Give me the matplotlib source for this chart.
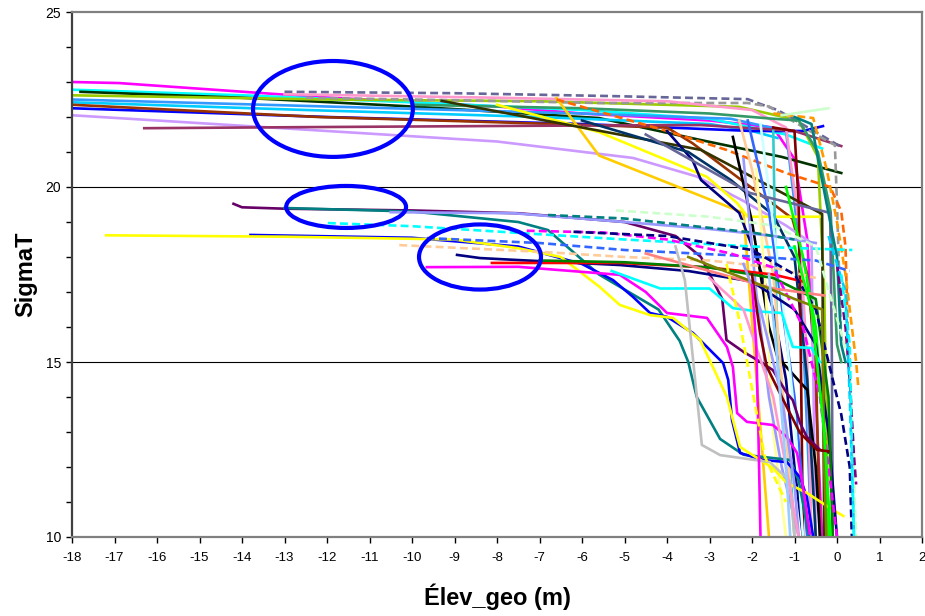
import matplotlib
matplotlib.use("Agg")
import matplotlib.pyplot as plt
from matplotlib.patches import Ellipse
from matplotlib.ticker import MultipleLocator

# ---- upper bundle (sigmaT ~21.5-23 offshore, dropping near shore)
top_x = [
    [-18, -16.9, -12.2, -8, -6, -3, -1.5, -1.0, -0.7, -0.5, -0.35],
    [-18, -14, -10, -6, -3, -1.2, -0.35],
    [-17.8, -14, -10, -5.6, -3.2, -1.3, 0.1],
    [-18, -12, -7, -2.3, -0.9, -0.45, -0.3, -0.2],
    [-18, -12, -6, -2.5, -1.2, -0.9, -0.7, -0.6],
    [-18, -12.5, -7, -3, -2, -1.4],
    [-18, -12, -6, -2, -0.8, -0.33],
    [-18, -12.2, -8, -4, -3.4, -1.05, -0.7, -0.5, -0.4],
    [-18, -12, -8, -4.8, -3.3, -2.2, -1.2, -0.6, -0.55, -0.5],
    [-16.3, -12.6, -7, -3.2, -1, 0.1],
    [-13, -9, -5.4, -2.1, -1.8, -1.4, -0.3, 0.1],
    [-12.5, -9, -5.6, -2.1, -1.6, -1.2, -0.5, -0.05, 0.0, 0.05, 0.1],
    [-13, -8, -4, -2, -1.2, -0.9, -0.7, -0.6],
    [-10, -6, -3, -1.5, -0.9, -0.45, -0.15, 0.0, 0.1],
    [-6.6, -5.6, -2.2, -1.6],
    [-8, -5.6, -3.06, -2.35, -2.1, -0.4],
    [-9.3, -6, -3.2, -0.35, -0.3],
    [-6.6, -4, -2.6, -1.2, -0.16, 0.1, 0.2, 0.25, 0.3],
    [-1.5, -0.56, -0.24, 0.0, 0.2, 0.35, 0.45, 0.5],
    [-1.3, -0.2],
    [-4.0, -3.4, -3.2, -2.3, -1.9, -1.5, -1.2, -1.0, -0.8],
    [-6, -3.5, -2.5, -1.5, -1.0, -0.7, -0.5],
    [-2.45, -2.0, -1.6, -1.4, -0.7, -0.5, -0.4],
    [-1.5, -1.45, -1.4, -1.1, -1.0],
    [-1.5, -1.0, -0.9, -0.85, -0.8],
    [-2.1, -1.6, -1.4, -1.0, -0.7],
    [-1.8, -1.3, -1.0, -0.8],
    [-2.3, -2.0, -1.5, -1.2, -1.0],
    [-4.5, -2.05, -0.16, -0.12, -0.1],
    [-1.2, -0.8, -0.5, -0.3, -0.2],
    [-1.0, -0.6, -0.4, 0.0, 0.1, 0.2],
    [-1.9, -1.7, -1.5, -1.2],
    [-2.2, -1.9, -1.6, -1.3, -0.9],
]
top_y = [
    [23.0, 22.97, 22.57, 22.3, 22.1, 21.9, 21.7, 20.8, 18.5, 14.0, 10.0],
    [22.78, 22.62, 22.42, 22.2, 21.95, 21.5, 21.1],
    [22.72, 22.55, 22.3, 21.97, 21.34, 20.86, 20.4],
    [22.62, 22.5, 22.45, 22.29, 21.9, 20.86, 17.0, 10.0],
    [22.5, 22.3, 22.1, 21.95, 21.6, 18.5, 13.0, 10.0],
    [22.42, 22.2, 22.0, 21.8, 21.6, 21.4],
    [22.25, 22.0, 21.8, 21.6, 21.6, 21.74],
    [22.35, 22.0, 21.85, 21.7, 21.25, 19.1, 17.5, 15.0, 10.0],
    [22.05, 21.6, 21.3, 20.83, 20.3, 19.6, 18.9, 18.4, 14.0, 10.0],
    [21.68, 21.71, 21.75, 21.77, 21.6, 21.17],
    [22.72, 22.68, 22.6, 22.51, 22.37, 22.2, 21.43, 21.14],
    [22.55, 22.48, 22.4, 22.4, 22.3, 22.0, 21.5, 21.2, 19.5, 17.5, 15.5],
    [22.65, 22.55, 22.45, 22.2, 21.7, 19.0, 15.0, 10.0],
    [22.35, 22.25, 22.1, 21.95, 21.9, 21.0, 19.3, 15.5, 15.0],
    [22.54, 20.9, 19.26, 10.0],
    [22.35, 21.57, 20.29, 19.54, 19.15, 19.15],
    [22.46, 21.7, 21.06, 19.23, 10.0],
    [22.5, 21.6, 21.06, 20.4, 20.0, 19.3, 18.3, 16.0, 15.0],
    [22.1, 21.97, 20.49, 19.0, 17.5, 16.0, 15.0, 14.3],
    [22.05, 22.25],
    [21.6, 20.77, 20.2, 19.26, 18.0, 16.5, 14.5, 12.0, 10.0],
    [21.9, 21.0, 20.2, 19.2, 18.0, 14.5, 10.0],
    [21.43, 19.0, 16.0, 15.14, 14.2, 12.0, 10.0],
    [21.6, 18.0, 15.0, 12.0, 10.0],
    [21.7, 21.6, 19.5, 15.0, 10.0],
    [21.9, 19.3, 17.5, 14.0, 10.0],
    [21.8, 17.0, 13.5, 10.0],
    [21.9, 20.5, 17.5, 13.0, 10.0],
    [21.5, 19.83, 19.26, 15.0, 10.0],
    [20.0, 18.0, 16.0, 13.0, 10.0],
    [22.0, 21.8, 20.5, 18.0, 15.5, 15.0],
    [20.5, 17.5, 13.0, 10.0],
    [20.8, 17.0, 14.0, 12.0, 10.0],
]
top_colors = ["#ff00ff", "#00ffff", "#003300", "#99cc00", "#3399ff", "#00ccff",
              "#0000ff", "#993300", "#cc99ff", "#993366", "#666699", "#999999",
              "#ff99cc", "#339966", "#ffcc00", "#ffff00", "#333300", "#ff6600",
              "#ff9900", "#ccffcc", "#000080", "#003366", "#000000", "#33cccc",
              "#800000", "#3366ff", "#ccffff", "#ffcc99", "#666699", "#00ff00",
              "#008080", "#ffff99", "#9999ff"]
top_dashed = [0, 0, 0, 0, 0, 0, 0, 0, 0, 0, 1, 1, 0, 0, 0, 0, 0, 1, 1, 0,
              0, 0, 0, 0, 0, 0, 0, 0, 0, 0, 0, 0, 0]

# ---- middle bundle (sigmaT ~17.5-19.5)
mid_x = [
    [-14.2, -14.0, -13, -10, -7.5, -5, -3.8, -3.2, -2.7, -2.6, -2.2, -1.88, -1.51, -1.18, -1.04, -0.87, -0.71, -0.4, -0.16],
    [-13.0, -10, -7.5, -6.8, -5.6, -4.2, -3.7, -3.5, -3.3, -2.75, -2.2, -1.1, -0.9, -0.65],
    [-13.8, -10, -7.5, -6, -5.27, -4.8, -4.4, -4.0, -3.39, -2.68, -2.56, -2.47, -2.28, -1.74, -1.18, -0.87, -0.71, -0.56],
    [-17.2, -13, -9, -7.5, -6.5, -5.58, -5.11, -4.4, -3.86, -3.22, -2.59, -2.28, -1.51, -1.18, -0.71, -0.09, 0.15],
    [-9.65, -7.5, -5.11, -4.5, -4.0, -3.06, -2.59, -2.45, -2.35, -2.12, -1.51, -1.18, -0.94, -0.8, -0.64],
    [-8.94, -8.4, -7.46, -5.1, -3.5, -2.0, -1.0, -0.5, -0.2, 0.0],
    [-8.12, -5.1, -3, -1.5, -0.8],
    [-11.98, -10, -7, -5, -2, 0.36],
    [-9.65, -7, -5, -2.5, -0.5, 0.3],
    [-10.3, -7, -5, -3, -1.5, -0.5],
    [-10.5, -7.6, -5, -3, -1.5, -0.5],
    [-5.2, -3, -1.5, -0.5, 0.3, 0.45],
    [-6.8, -5, -3.5, -2, -1.0],
    [-7, -5, -3, -1.5, -0.5, -0.2, -0.1],
    [-7.3, -5.5, -4, -2.5, -1.5, -0.8, -0.4, -0.2, 0.0],
    [-6.2, -4, -2, -1, -0.5, -0.2, 0.1, 0.3, 0.35],
    [-4.5, -3, -1.5, -0.3],
    [-3.5, -2, -1.0, -0.35, -0.3, -0.25],
    [-5.3, -4.16, -3.0, -2.45, -1.9, -1.3, -1.04, -0.6, -0.4],
    [-3.8, -3.58, -3.18, -2.75, -1.58, -1.11, -1.0],
    [-2.2, -1.8, -1.3, -1.0, -0.9],
    [-3, -2.2, -1.5, -1.2, -0.9],
    [0.0, 0.2, 0.3, 0.4, 0.45],
    [-0.2, 0.2, 0.3, 0.35, 0.4],
    [-1.0, -0.6, -0.3, -0.15],
    [-2.0, -1.81, -1.65, -1.3, -0.87, -0.47, -0.2],
    [-2.0, -1.9, -1.85, -1.8],
    [-1.6, -1.4, -1.2, -1.1],
    [-2.6, -2.3, -1.7, -1.2],
    [0.1, 0.3, 0.35, 0.4],
]
mid_y = [
    [19.52, 19.42, 19.38, 19.33, 19.25, 19.0, 18.6, 18.0, 16.8, 15.63, 15.29, 15.06, 14.77, 14.11, 13.91, 13.26, 12.86, 12.49, 12.4],
    [19.4, 19.3, 19.0, 18.77, 17.5, 16.5, 15.6, 15.0, 14.0, 12.8, 12.35, 12.2, 11.6, 10.0],
    [18.63, 18.55, 18.3, 17.8, 17.34, 16.86, 16.4, 16.29, 15.83, 14.97, 14.49, 13.34, 12.4, 12.2, 12.14, 11.71, 11.14, 10.0],
    [18.62, 18.58, 18.5, 18.25, 18.0, 17.14, 16.63, 16.34, 16.26, 15.63, 14.0, 12.57, 11.97, 11.54, 11.26, 10.77, 10.6],
    [17.71, 17.72, 17.49, 17.0, 16.4, 16.26, 15.43, 14.86, 13.54, 13.29, 13.2, 12.86, 12.4, 11.43, 10.1],
    [18.06, 17.97, 17.91, 17.77, 17.6, 17.3, 16.5, 15.5, 13.0, 10.0],
    [17.83, 17.83, 17.7, 17.5, 17.3],
    [18.97, 18.88, 18.65, 18.5, 18.3, 18.2],
    [18.54, 18.4, 18.2, 18.05, 17.9, 17.6],
    [18.34, 18.15, 18.0, 17.9, 17.7, 17.4],
    [19.28, 19.25, 19.0, 18.8, 18.6, 18.4],
    [19.33, 19.15, 18.9, 18.3, 15.0, 10.0],
    [19.2, 19.1, 18.9, 18.7, 18.5],
    [17.9, 17.85, 17.7, 17.4, 16.8, 14.0, 10.0],
    [18.75, 18.7, 18.5, 18.1, 17.7, 16.0, 14.0, 12.0, 10.0],
    [18.72, 18.6, 18.2, 17.5, 16.5, 15.0, 13.5, 12.0, 10.0],
    [18.1, 17.6, 17.1, 16.9],
    [18.0, 17.3, 16.8, 16.5, 12.0, 10.0],
    [17.6, 17.1, 17.1, 16.54, 16.45, 16.4, 15.43, 15.4, 15.0],
    [18.3, 17.34, 12.63, 12.34, 12.14, 11.6, 10.0],
    [17.8, 16.5, 14.0, 11.5, 10.0],
    [17.4, 16.5, 14.0, 12.0, 10.0],
    [17.8, 16.0, 14.5, 12.3, 11.5],
    [18.6, 17.0, 14.0, 12.0, 10.0],
    [18.3, 16.5, 13.0, 10.0],
    [17.5, 15.83, 14.86, 14.0, 12.97, 12.49, 12.45],
    [17.2, 15.5, 13.0, 10.0],
    [17.5, 15.0, 12.0, 10.0],
    [17.8, 16.2, 12.3, 11.0],
    [17.5, 15.5, 12.5, 10.0],
]
mid_colors = ["#660066", "#008080", "#0000ff", "#ffff00", "#ff00ff", "#000080",
              "#ff0000", "#00ffff", "#3366ff", "#ffcc99", "#9999ff", "#ccffcc",
              "#008080", "#008000", "#ff00ff", "#000080", "#ff8080", "#808000",
              "#00ffff", "#c0c0c0", "#9999ff", "#ff99cc", "#800080", "#00ccff",
              "#00ff00", "#800000", "#ff00ff", "#99ccff", "#ffff00", "#00ffff"]
mid_dashed = [0, 0, 0, 0, 0, 0, 0, 1, 1, 1, 0, 1, 1, 0, 1, 1, 0, 0, 0, 0,
              0, 0, 1, 1, 0, 0, 0, 0, 1, 1]

# circled zones (centre x, centre y, width, height)
ell_cx = [-11.86, -11.55, -8.4]
ell_cy = [22.23, 19.43, 18.0]
ell_w = [3.76, 2.82, 2.87]
ell_h = [2.74, 1.2, 1.86]

plt.rcParams['font.family'] = ['Liberation Sans', 'DejaVu Sans']
plt.rcParams['axes.unicode_minus'] = False

fig = plt.figure(figsize=(9.25, 6.16), dpi=100)
ax = fig.add_axes([72 / 925, 79 / 616, 850 / 925, 525 / 616])

ax.axhline(15, color="#000000", lw=0.8, zorder=0)
ax.axhline(20, color="#000000", lw=0.8, zorder=0)

for xs, ys, c, d in zip(top_x + mid_x, top_y + mid_y,
                        top_colors + mid_colors, top_dashed + mid_dashed):
    if d:
        ax.plot(xs, ys, color=c, lw=1.9, dashes=(3, 1.6))
    else:
        ax.plot(xs, ys, color=c, lw=1.9)

for cx, cy, w, h in zip(ell_cx, ell_cy, ell_w, ell_h):
    ax.add_patch(Ellipse((cx, cy), w, h, fill=False, edgecolor="#0000ff",
                         lw=3, zorder=5))

ax.set_xlim(-18, 2)
ax.set_ylim(10, 25)
ax.xaxis.set_major_locator(MultipleLocator(1))
ax.yaxis.set_major_locator(MultipleLocator(5))
ax.yaxis.set_minor_locator(MultipleLocator(1))
ax.tick_params(axis="x", direction="out", length=4, width=1, labelsize=9.5, pad=7)
ax.tick_params(axis="y", which="both", direction="out", length=4, width=1,
               labelsize=10, pad=4)

for side in ["top", "right", "bottom"]:
    ax.spines[side].set_color("#808080")
    ax.spines[side].set_linewidth(1.6)
ax.spines["left"].set_color("#404040")
ax.spines["left"].set_linewidth(1.6)

ax.set_xlabel("Élev_geo (m)", fontsize=17, fontweight="bold", labelpad=14)
ax.set_ylabel("SigmaT", fontsize=17, fontweight="bold", labelpad=6)

fig.savefig("out.png", dpi=100)
